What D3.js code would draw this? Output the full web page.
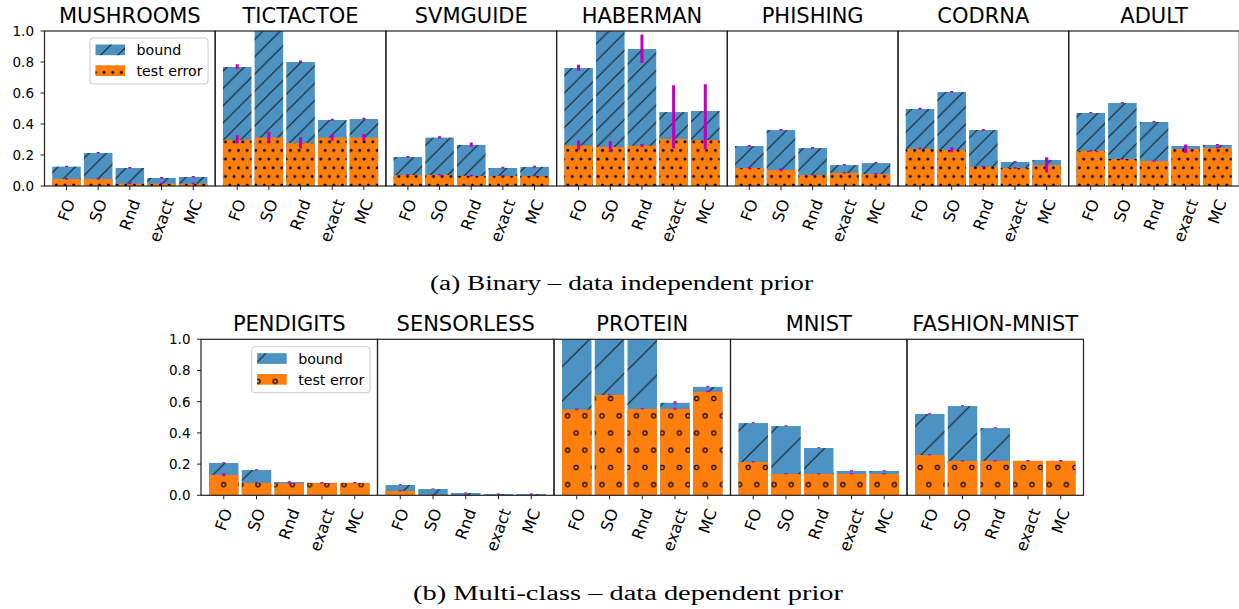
<!DOCTYPE html>
<html lang="en">
<head>
<meta charset="UTF-8">
<title>Bounds vs test error</title>
<script src="https://d3js.org/d3.v7.min.js"></script>
<style>
    body { margin: 0; background: white; }
    svg { display: block; font-family: "DejaVu Sans", sans-serif; }
    .caption { font-family: "Liberation Serif", serif; }
</style>
</head>
<body>
<svg id="canvas" width="1239" height="609"></svg>
<script>
    // methods shown under every panel
    const methods = ["FO", "SO", "Rnd", "exact", "MC"];

    // (a) binary datasets, data independent prior
    const binaryNames = ["MUSHROOMS", "TICTACTOE", "SVMGUIDE", "HABERMAN", "PHISHING", "CODRNA", "ADULT"];
    const binaryBound = [
        [0.125, 0.213, 0.116, 0.052, 0.058],
        [0.768, 1.0, 0.80, 0.426, 0.432],
        [0.187, 0.312, 0.265, 0.116, 0.123],
        [0.761, 1.0, 0.884, 0.477, 0.484],
        [0.258, 0.361, 0.245, 0.135, 0.148],
        [0.497, 0.606, 0.361, 0.155, 0.168],
        [0.471, 0.535, 0.413, 0.258, 0.265]];
    const binaryBoundErr = [
        [0.003, 0.003, 0.003, 0.003, 0.003],
        [0.015, 0.004, 0.006, 0.005, 0.005],
        [0.004, 0.005, 0.012, 0.005, 0.005],
        [0.018, 0.004, 0.09, 0.17, 0.17],
        [0.004, 0.004, 0.004, 0.003, 0.003],
        [0.004, 0.004, 0.004, 0.003, 0.003],
        [0.003, 0.003, 0.003, 0.003, 0.003]];
    const binaryTest = [
        [0.045, 0.045, 0.015, 0.015, 0.015],
        [0.299, 0.312, 0.277, 0.312, 0.312],
        [0.071, 0.071, 0.065, 0.065, 0.065],
        [0.26, 0.252, 0.26, 0.303, 0.297],
        [0.116, 0.103, 0.071, 0.084, 0.077],
        [0.239, 0.232, 0.123, 0.116, 0.135],
        [0.226, 0.174, 0.161, 0.239, 0.247]];
    const binaryTestErr = [
        [0.004, 0.004, 0.003, 0.003, 0.003],
        [0.025, 0.035, 0.035, 0.02, 0.02],
        [0.004, 0.004, 0.004, 0.003, 0.003],
        [0.03, 0.033, 0.008, 0.06, 0.06],
        [0.005, 0.008, 0.004, 0.003, 0.004],
        [0.004, 0.015, 0.004, 0.004, 0.048],
        [0.004, 0.004, 0.004, 0.026, 0.004]];

    // (b) multi-class datasets, data dependent prior
    const multiNames = ["PENDIGITS", "SENSORLESS", "PROTEIN", "MNIST", "FASHION-MNIST"];
    const multiBound = [
        [0.207, 0.162, 0.085, 0.08, 0.08],
        [0.066, 0.04, 0.015, 0.008, 0.008],
        [1.0, 1.0, 1.0, 0.593, 0.695],
        [0.463, 0.444, 0.303, 0.156, 0.156],
        [0.521, 0.572, 0.431, 0.221, 0.221]];
    const multiBoundErr = [
        [0.003, 0.003, 0.003, 0.002, 0.002],
        [0.003, 0.002, 0.002, 0.002, 0.002],
        [0.003, 0.003, 0.003, 0.009, 0.004],
        [0.003, 0.003, 0.003, 0.003, 0.003],
        [0.003, 0.003, 0.003, 0.002, 0.002]];
    const multiTest = [
        [0.130, 0.079, 0.077, 0.078, 0.078],
        [0.028, 0.003, 0.002, 0.002, 0.002],
        [0.549, 0.643, 0.553, 0.553, 0.664],
        [0.213, 0.137, 0.137, 0.137, 0.137],
        [0.258, 0.22, 0.22, 0.22, 0.22]];
    const multiTestErr = [
        [0.01, 0.004, 0.003, 0.003, 0.003],
        [0.003, 0.002, 0.002, 0.002, 0.002],
        [0.006, 0.003, 0.003, 0.006, 0.004],
        [0.003, 0.003, 0.003, 0.003, 0.003],
        [0.003, 0.003, 0.003, 0.003, 0.003]];

    const yTicks = [0, 0.2, 0.4, 0.6, 0.8, 1.0];

    const blue = "#4c92c3", orange = "#ff7f0e", magenta = "#bf00bf";

    let svg = d3.select("#canvas");
    let defs = svg.append("defs");

    // hatch patterns, anchored to the page like matplotlib does
    function slashPattern(id, s) {
        let p = defs.append("pattern").attr("id", id)
            .attr("patternUnits", "userSpaceOnUse").attr("width", s).attr("height", s);
        p.append("path")
            .attr("d", `M0,${s} L${s},0 M${-s / 2},${s / 2} L${s / 2},${-s / 2} M${s / 2},${s * 1.5} L${s * 1.5},${s / 2}`)
            .attr("stroke", "#1a1a1a").attr("stroke-width", 1.1);
    }
    function dotPattern(id, s, r, filled) {
        let p = defs.append("pattern").attr("id", id)
            .attr("patternUnits", "userSpaceOnUse").attr("width", s).attr("height", 2 * s)
            .attr("y", 3);
        let pts = [[0, 0], [s, 0], [0, 2 * s], [s, 2 * s], [s / 2, s]];
        pts.forEach(function (q) {
            p.append("circle").attr("cx", q[0]).attr("cy", q[1]).attr("r", r)
                .attr("fill", filled ? "black" : "none")
                .attr("stroke", "black").attr("stroke-width", filled ? 0 : 1.1);
        });
    }
    slashPattern("slashA", 17.3);
    slashPattern("slashB", 34.4);
    dotPattern("dotsA", 8.67, 1.5, true);
    dotPattern("dotsB", 17.2, 2.1, false);

    function drawRow(cfg) {
        let y = d3.scaleLinear().domain([0, 1]).range([cfg.bottom, cfg.top]);

        cfg.names.forEach(function (name, k) {
            let x0 = cfg.left + k * cfg.width;
            let x = d3.scaleLinear().domain([-0.695, 4.695]).range([x0, x0 + cfg.width]);
            let bw = x(0.9) - x(0);
            let g = svg.append("g");

            let clipId = "clip" + cfg.key + k;
            defs.append("clipPath").attr("id", clipId).append("rect")
                .attr("x", x0).attr("y", cfg.top).attr("width", cfg.width).attr("height", cfg.bottom - cfg.top);
            let inner = g.append("g").attr("clip-path", `url(#${clipId})`);

            let rows = methods.map(function (m, i) {
                return {i: i, bound: cfg.bound[k][i], bErr: cfg.boundErr[k][i],
                        test: cfg.test[k][i], tErr: cfg.testErr[k][i]};
            });

            // bound bars (blue + slashes)
            ["fill", "hatch"].forEach(function (layer) {
                inner.selectAll(null).data(rows).enter().append("rect")
                    .attr("x", d => x(d.i) - bw / 2).attr("width", bw)
                    .attr("y", d => y(d.bound)).attr("height", d => y(0) - y(d.bound))
                    .attr("fill", layer === "fill" ? blue : `url(#${cfg.slash})`);
            });
            // test error bars (orange + dots)
            ["fill", "hatch"].forEach(function (layer) {
                inner.selectAll(null).data(rows).enter().append("rect")
                    .attr("x", d => x(d.i) - bw / 2).attr("width", bw)
                    .attr("y", d => y(d.test)).attr("height", d => y(0) - y(d.test))
                    .attr("fill", layer === "fill" ? orange : `url(#${cfg.dots})`);
            });
            // error bars
            let errs = [];
            rows.forEach(function (d) {
                errs.push({i: d.i, v: d.bound, e: d.bErr});
                errs.push({i: d.i, v: d.test, e: d.tErr});
            });
            inner.selectAll(null).data(errs).enter().append("line")
                .attr("x1", d => x(d.i)).attr("x2", d => x(d.i))
                .attr("y1", d => y(d.v - d.e)).attr("y2", d => y(d.v + d.e) - 0.5)
                .attr("stroke", magenta).attr("stroke-width", 3)
                .attr("stroke-opacity", cfg.errOpacity);

            // frame
            g.append("rect").attr("x", x0).attr("y", cfg.top)
                .attr("width", cfg.width).attr("height", cfg.bottom - cfg.top)
                .attr("fill", "none").attr("stroke", "#222").attr("stroke-width", 1.2);

            // x ticks + rotated labels
            let xa = g.append("g");
            xa.selectAll(null).data(methods).enter().append("line")
                .attr("x1", (m, i) => x(i)).attr("x2", (m, i) => x(i))
                .attr("y1", cfg.bottom).attr("y2", cfg.bottom + 4)
                .attr("stroke", "#222").attr("stroke-width", 1);
            xa.selectAll(null).data(methods).enter().append("text")
                .text(m => m)
                .attr("font-size", 16)
                .attr("text-anchor", "middle")
                .attr("dominant-baseline", "central")
                .each(function (m, i) {
                    let L = this.getComputedTextLength();
                    let cy = cfg.bottom + 11 + (L * 0.94 + 16 * 1.1 * 0.342) / 2;
                    d3.select(this).attr("transform", `translate(${x(i)},${cy}) rotate(-70)`);
                });

            // title
            g.append("text").text(name)
                .attr("x", x0 + cfg.width / 2).attr("y", cfg.top - 8.5)
                .attr("text-anchor", "middle").attr("font-size", 21);
        });

        // y axis on the first panel
        let ya = svg.append("g");
        ya.selectAll(null).data(yTicks).enter().append("line")
            .attr("x1", cfg.left - 4).attr("x2", cfg.left)
            .attr("y1", d => y(d)).attr("y2", d => y(d))
            .attr("stroke", "#222");
        ya.selectAll(null).data(yTicks).enter().append("text")
            .text(d3.format(".1f"))
            .attr("x", cfg.left - 10.5).attr("y", d => y(d))
            .attr("dy", "0.36em").attr("text-anchor", "end").attr("font-size", 13.5);

        // legend
        let L = cfg.legend;
        let lg = svg.append("g");
        lg.append("rect").attr("x", L.x).attr("y", L.y).attr("width", L.w).attr("height", L.h)
            .attr("rx", 3).attr("fill", "white").attr("fill-opacity", 0.85)
            .attr("stroke", "#cccccc");
        let items = [{label: "bound", c: blue, h: cfg.slash}, {label: "test error", c: orange, h: cfg.dots}];
        items.forEach(function (it, j) {
            let py = L.y + 6.5 + j * 20.8;
            lg.append("rect").attr("x", L.x + 5.5).attr("y", py).attr("width", 29.5).attr("height", 10.7).attr("fill", it.c);
            lg.append("rect").attr("x", L.x + 5.5).attr("y", py).attr("width", 29.5).attr("height", 10.7).attr("fill", `url(#${it.h})`);
            lg.append("text").text(it.label).attr("x", L.x + 46.5).attr("y", py + 10.5)
                .attr("font-size", 14.2);
        });

        svg.append("text").attr("class", "caption").text(cfg.caption)
            .attr("x", cfg.captionX).attr("y", cfg.captionY)
            .attr("text-anchor", "middle").attr("font-size", 20)
            .attr("textLength", cfg.captionW).attr("lengthAdjust", "spacingAndGlyphs");
    }

    drawRow({key: "a", names: binaryNames, bound: binaryBound, boundErr: binaryBoundErr,
        test: binaryTest, testErr: binaryTestErr,
        left: 44.5, width: 170.7, top: 31, bottom: 186,
        slash: "slashA", dots: "dotsA", errOpacity: 1,
        legend: {x: 90, y: 38, w: 118, h: 46},
        caption: "(a) Binary \u2013 data independent prior", captionX: 621.5, captionY: 290, captionW: 383});

    drawRow({key: "b", names: multiNames, bound: multiBound, boundErr: multiBoundErr,
        test: multiTest, testErr: multiTestErr,
        left: 201, width: 176.5, top: 339.3, bottom: 495.3,
        slash: "slashB", dots: "dotsB", errOpacity: 0.8,
        legend: {x: 251.7, y: 346.7, w: 118.3, h: 46},
        caption: "(b) Multi-class \u2013 data dependent prior", captionX: 628, captionY: 600, captionW: 430});
</script>
</body>
</html>
